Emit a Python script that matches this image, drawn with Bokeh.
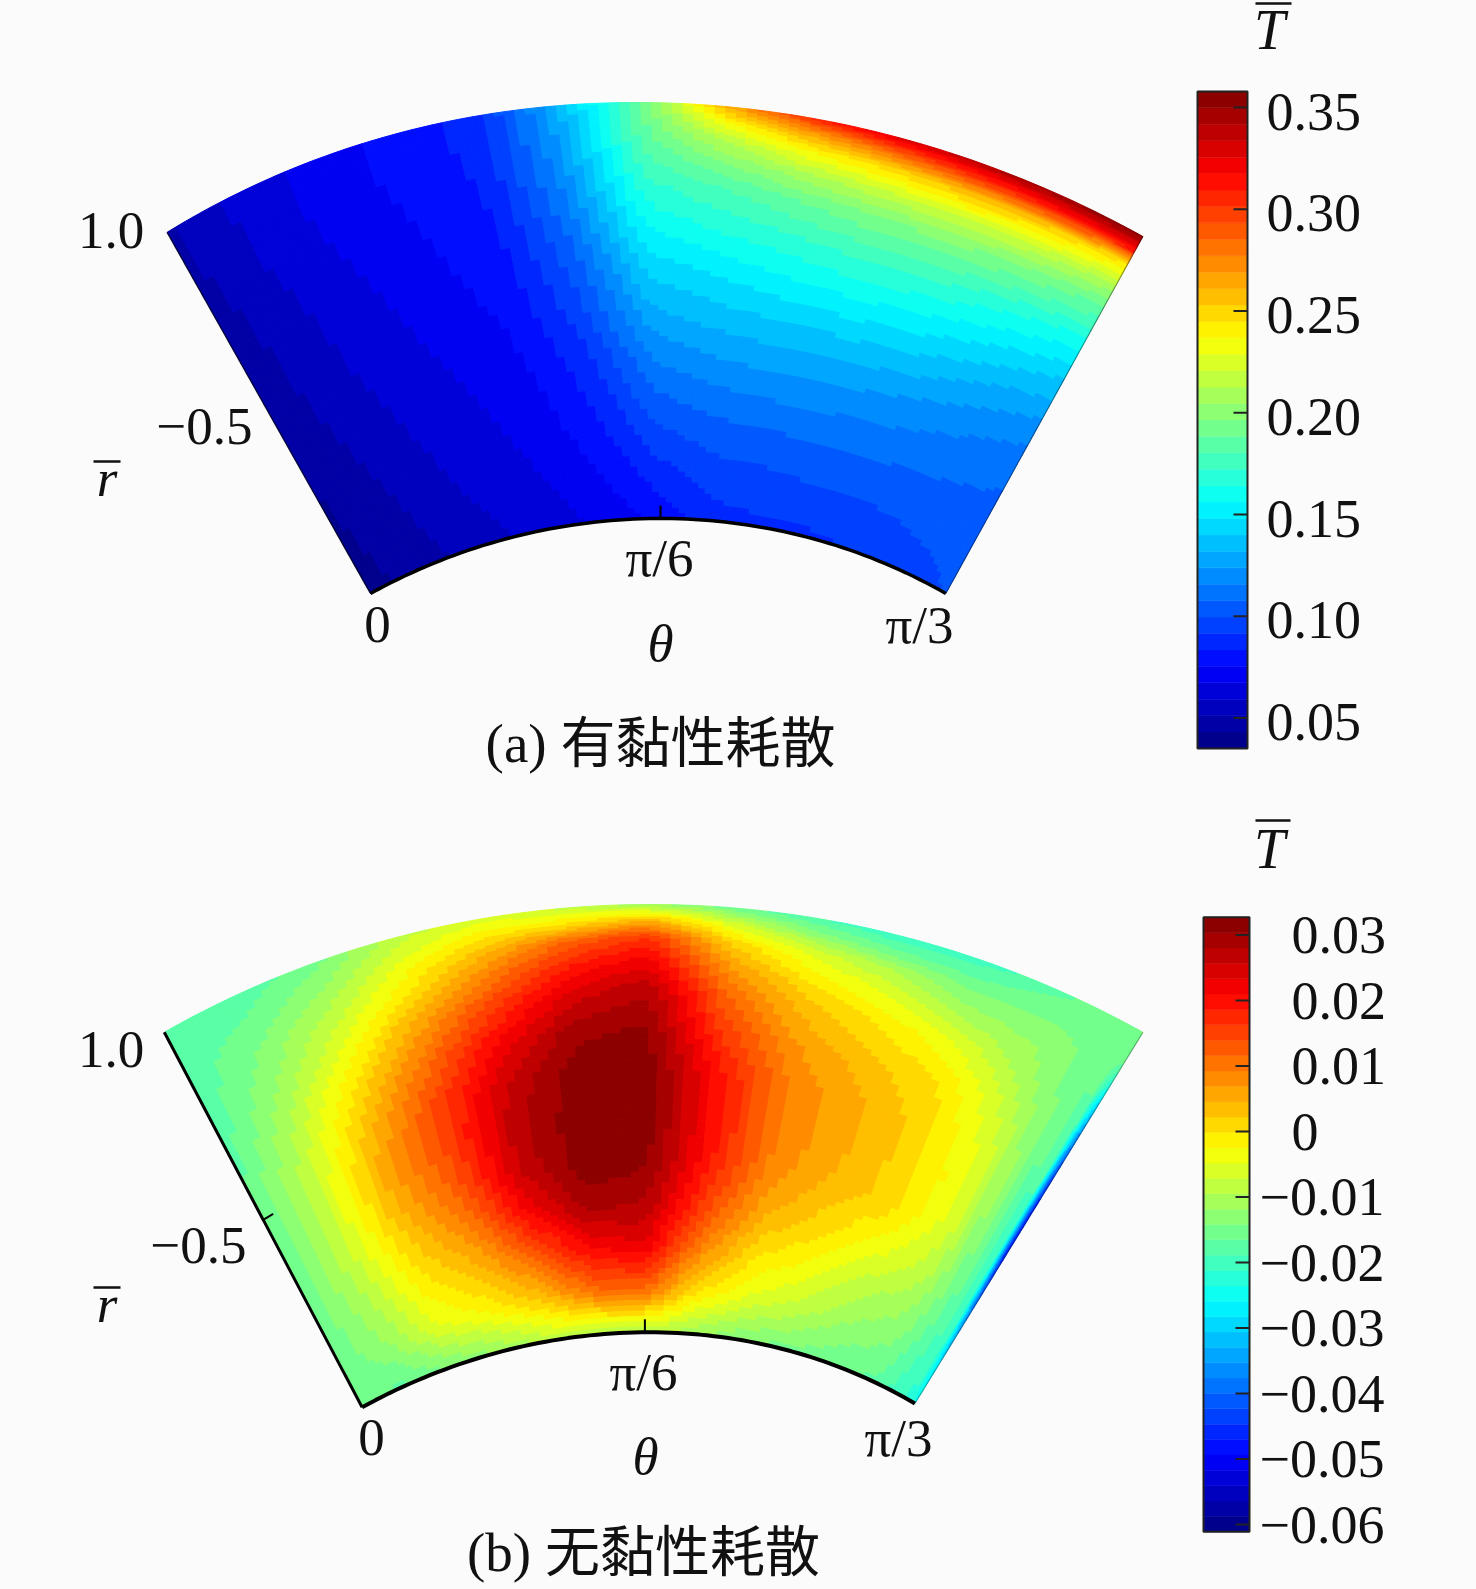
import numpy as np
from bokeh.plotting import figure
from bokeh.models import Range1d, ColumnDataSource, LinearColorMapper
from bokeh.core.properties import value
from bokeh.transform import transform
from bokeh.embed import file_html
from bokeh.resources import INLINE

# ---- data (rows: outer arc -> inner arc, cols: theta 0 -> pi/3)
r_frac = [0, .04, .08, .14, .2, .3, .4, .5, .6, .7, .8, .9, 1]
u_a = [i / 12 for i in range(13)]
T_a = [
 [.050,.062,.071,.078,.086,.130,.190,.262,.305,.328,.342,.350,.358],
 [.050,.062,.071,.078,.086,.128,.187,.235,.265,.285,.300,.310,.315],
 [.050,.061,.071,.078,.086,.125,.185,.215,.238,.248,.257,.255,.245],
 [.049,.061,.070,.077,.085,.122,.178,.195,.210,.218,.222,.220,.210],
 [.048,.060,.069,.076,.084,.118,.170,.180,.190,.197,.199,.195,.188],
 [.047,.058,.067,.074,.082,.110,.157,.165,.170,.175,.174,.167,.160],
 [.046,.057,.065,.072,.080,.103,.143,.150,.155,.158,.155,.148,.140],
 [.045,.056,.064,.070,.077,.097,.131,.137,.140,.141,.139,.132,.125],
 [.044,.054,.062,.068,.075,.090,.118,.125,.127,.127,.124,.119,.114],
 [.043,.052,.060,.066,.072,.085,.107,.113,.115,.115,.114,.111,.108],
 [.042,.050,.058,.064,.070,.080,.097,.103,.104,.105,.105,.105,.105],
 [.041,.048,.056,.062,.067,.075,.087,.095,.096,.098,.098,.100,.102],
 [.040,.046,.053,.059,.064,.070,.078,.088,.090,.090,.092,.096,.100],
]
u_b = [i / 12 for i in range(12)] + [.99, 1]
T_b = [
 [-.018,-.018,-.015,-.008,-.006,-.008,-.012,-.016,-.019,-.021,-.020,-.017,-.015,-.014],
 [-.018,-.017,-.013,-.006,-.001, .000, .005,-.006,-.013,-.016,-.017,-.015,-.015,-.015],
 [-.018,-.016,-.011,-.003, .004, .012, .017, .001,-.006,-.010,-.014,-.014,-.015,-.016],
 [-.018,-.014,-.008, .000, .010, .019, .023, .007,-.001,-.005,-.010,-.012,-.016,-.022],
 [-.018,-.013,-.005, .005, .015, .024, .028, .011, .003,-.001,-.005,-.011,-.017,-.030],
 [-.018,-.010, .000, .011, .022, .030, .031, .016, .007, .003,.000,-.008,-.018,-.038],
 [-.017,-.008, .004, .015, .026, .032, .032, .020, .009, .005, .001,-.006,-.019,-.045],
 [-.017,-.007, .006, .015, .027, .032, .032, .020, .009, .005, .001,-.005,-.020,-.048],
 [-.017,-.007, .005, .013, .026, .032, .031, .019, .008, .004, .001,-.006,-.020,-.048],
 [-.016,-.008, .002, .009, .021, .029, .028, .015, .005, .001,-.003,-.008,-.020,-.042],
 [-.016,-.010,-.001, .004, .012, .021, .023, .009, .000,-.003,-.008,-.011,-.020,-.035],
 [-.016,-.012,-.005,-.002, .003, .011, .012, .000,-.005,-.008,-.012,-.014,-.021,-.028],
 [-.016,-.017,-.014,-.012,-.009,-.009,-.009,-.011,-.014,-.015,-.016,-.017,-.022,-.024],
]
range_a = (.035, .3579)
range_b = (-.0611, .0327)
ticks_a = [.35, .30, .25, .20, .15, .10, .05]
labels_a = ["0.35", "0.30", "0.25", "0.20", "0.15", "0.10", "0.05"]
ticks_b = [.03, .02, .01, 0, -.01, -.02, -.03, -.04, -.05, -.06]
labels_b = ["0.03", "0.02", "0.01", "0", "\u22120.01", "\u22120.02", "\u22120.03", "\u22120.04", "\u22120.05", "\u22120.06"]

# ---- styling / layout
W, H = 1476, 1589
BG = "#fbfbfb"
SERIF = "Liberation Serif"
LEVELS = 40
PHI0 = np.pi / 6
GEOM_A = dict(Lo=(166.6, 231.8), Ro=(1142.4, 236), Po=(640, 102), Li=(370, 593), Ri=(945.3, 593), Pi=(660, 518))
GEOM_B = dict(Lo=(163.8, 1031.8), Ro=(1142.4, 1031.8), Po=(650, 904), Li=(361.6, 1406.8), Ri=(914.4, 1403), Pi=(644.4, 1331.8))


def jet(n):
    t = (np.arange(n) + .5) / n
    f = lambda c: np.clip(1.5 - np.abs(4 * t - c), 0, 1)
    rgb = np.stack([f(3), f(2), f(1)], 1)
    return ["#%02x%02x%02x" % tuple(int(round(v * 255)) for v in c) for c in rgb]


PAL = jet(LEVELS)


def arc(L, R, P, u):
    phi = (2 * np.asarray(u) - 1) * PHI0
    s = np.sin(phi) / np.sin(PHI0)
    c = (1 - np.cos(phi)) / (1 - np.cos(PHI0))
    mx = (L[0] + R[0]) / 2
    x = mx + s * (R[0] - L[0]) / 2 + (P[0] - mx) * (1 - s ** 2)
    y = P[1] + c * ((L[1] + R[1]) / 2 - P[1]) + s * (R[1] - L[1]) / 2
    return x, y


def pos(g, u, r):
    xo, yo = arc(g["Lo"], g["Ro"], g["Po"], u)
    xi, yi = arc(g["Li"], g["Ri"], g["Pi"], u)
    return xo * (1 - r) + xi * r, yo * (1 - r) + yi * r


def refine(us, rs, T, k=8):
    T = np.asarray(T, float)
    su = np.concatenate([np.linspace(us[i], us[i + 1], k, endpoint=False) for i in range(len(us) - 1)] + [[us[-1]]])
    sr = np.concatenate([np.linspace(rs[i], rs[i + 1], k, endpoint=False) for i in range(len(rs) - 1)] + [[rs[-1]]])
    A = np.array([np.interp(su, us, row) for row in T])
    B = np.array([np.interp(sr, rs, A[:, j]) for j in range(A.shape[1])]).T
    # light smoothing of the shading between table nodes
    for _ in range(3):
        C = B.copy()
        C[1:-1, 1:-1] = (B[1:-1, 1:-1] * 4 + B[:-2, 1:-1] + B[2:, 1:-1] + B[1:-1, :-2] + B[1:-1, 2:]) / 8
        B = C
    return su, sr, B


p = figure(width=W, height=H, x_range=Range1d(0, W), y_range=Range1d(H, 0),
           output_backend="svg", toolbar_location=None, min_border=0,
           background_fill_color=BG, border_fill_color=BG, outline_line_color=None)
p.axis.visible = False
p.grid.visible = False


def add_y_range(name, v1, y1, v2, y2):
    k = (v2 - v1) / (y2 - y1)
    p.extra_y_ranges[name] = Range1d(v1 + (H - y1) * k, v1 + (0 - y1) * k)


def sector(g, us, rs, T, rng):
    su, sr, V = refine(us, rs, T)
    xs, ys, vs = [], [], []
    for i in range(len(sr) - 1):
        for j in range(len(su) - 1):
            uu = np.array([su[j], su[j + 1], su[j + 1], su[j]])
            rr = np.array([sr[i], sr[i], sr[i + 1], sr[i + 1]])
            x, y = pos(g, uu, rr)
            xs.append(np.round(x, 1).tolist()); ys.append(np.round(y, 1).tolist())
            vs.append(V[i:i + 2, j:j + 2].mean())
    m = LinearColorMapper(palette=PAL, low=rng[0], high=rng[1])
    src = ColumnDataSource(dict(xs=xs, ys=ys, v=vs))
    p.patches("xs", "ys", source=src, fill_color=transform("v", m), line_color=transform("v", m), line_width=1)


def curve(g, side, width, alpha=1.0):
    t = np.linspace(0, 1, 80)
    if side == "inner":
        x, y = pos(g, t, np.ones_like(t))
    elif side == "left":
        x, y = pos(g, np.zeros_like(t), t)
    else:
        x, y = pos(g, np.ones_like(t), t)
    p.line(x, y, line_color="black", line_width=width, line_alpha=alpha)


def colorbar(name, left, right, rng, ticks, labels, text_x, dy):
    edges = np.linspace(rng[0], rng[1], LEVELS + 1)
    p.quad(left=left, right=right, bottom=edges[:-1], top=edges[1:], fill_color=PAL, line_color=PAL,
           line_width=.5, y_range_name=name)
    p.quad(left=[left], right=[right], bottom=[rng[0]], top=[rng[1]], fill_color=None, line_color="#222222",
           line_width=2, y_range_name=name)
    p.segment(x0=right - 14, x1=right, y0=ticks, y1=ticks, line_color="#222222", line_width=2, y_range_name=name)
    p.text(x=text_x, y=ticks, text=labels, text_font=value(SERIF), text_font_size="54px",
           text_baseline="middle", text_align="left", text_color="#111111", y_offset=dy, y_range_name=name)


def label(x, y, s, size=53, style="normal", font=SERIF):
    p.text(x=[x], y=[y], text=[s], text_font=value(font), text_font_size=f"{size}px", text_font_style=style,
           text_align="center", text_baseline="middle", text_color="#111111")


def overbar(x0, x1, y):
    p.segment(x0=[x0], x1=[x1], y0=[y], y1=[y], line_color="#111111", line_width=2.5)


# panel (a)
sector(GEOM_A, u_a, r_frac, T_a, range_a)
curve(GEOM_A, "inner", 3.5)
curve(GEOM_A, "left", 1.5, .6)
curve(GEOM_A, "right", 1.2, .4)
xt, yt = pos(GEOM_A, np.array([.5]), np.array([1.]))
p.segment(x0=xt, x1=xt, y0=yt - 13, y1=yt, line_color="black", line_width=2)
add_y_range("a", .35, 107, .05, 717.5)
colorbar("a", 1197, 1247, range_a, ticks_a, labels_a, [1266] * 7, 4)
label(110.5, 230, "1.0")
label(204, 426, "\u22120.5")
label(106.5, 477, "r", style="italic")
overbar(93, 120, 461)
label(659, 557, "\u03c0/6")
label(377, 624, "0")
label(660, 642, "\u03b8", style="italic")
label(919, 624, "\u03c0/3")
label(660, 743, "(a) \u6709\u9ecf\u6027\u8017\u6563", size=55, font=SERIF + ", Noto Sans CJK SC")
label(1269, 29, "T", size=56, style="italic")
overbar(1255, 1291, 3)

# panel (b)
sector(GEOM_B, u_b, r_frac, T_b, range_b)
curve(GEOM_B, "inner", 4)
curve(GEOM_B, "left", 3)
curve(GEOM_B, "right", 1.2, .3)
xt, yt = pos(GEOM_B, np.array([.5]), np.array([1.]))
p.segment(x0=xt, x1=xt, y0=yt - 13, y1=yt, line_color="black", line_width=2)
xt, yt = pos(GEOM_B, np.array([0.]), np.array([.5]))
p.segment(x0=xt, x1=xt + 10, y0=yt, y1=yt - 6, line_color="black", line_width=2)
add_y_range("b", .03, 934.5, -.06, 1524)
colorbar("b", 1203, 1249, range_b, ticks_b, labels_b,
         [1259 if s.startswith("\u2212") else 1291 for s in labels_b], 0)
label(110.5, 1049, "1.0")
label(198, 1245, "\u22120.5")
label(106.5, 1303, "r", style="italic")
overbar(93, 120, 1287)
label(643, 1371, "\u03c0/6")
label(371, 1437, "0")
label(645, 1455, "\u03b8", style="italic")
label(898, 1437, "\u03c0/3")
label(643, 1552, "(b) \u65e0\u9ecf\u6027\u8017\u6563", size=55, font=SERIF + ", Noto Sans CJK SC")
label(1269, 848, "T", size=56, style="italic")
overbar(1255, 1290, 820)

html = file_html(p, INLINE).replace("<body>", f'<body style="background:{BG}">')
open("out.html", "w").write(html)
